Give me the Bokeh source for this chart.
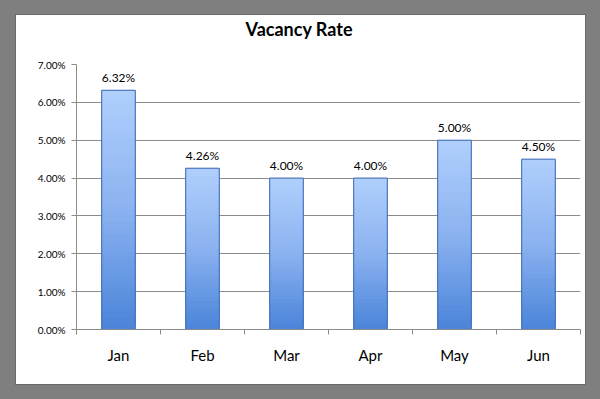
from bokeh.plotting import figure
from bokeh.models import Range1d, FixedTicker, PrintfTickFormatter, ColumnDataSource, Title
from bokeh.embed import file_html
from bokeh.resources import INLINE

months = ["Jan", "Feb", "Mar", "Apr", "May", "Jun"]
rates = [6.32, 4.26, 4.00, 4.00, 5.00, 4.50]
value_labels = ["6.32%", "4.26%", "4.00%", "4.00%", "5.00%", "4.50%"]
y_ticks = [0, 1, 2, 3, 4, 5, 6, 7]

FONT = "Lato"

def hex2rgb(h):
    h = h.lstrip("#")
    return tuple(int(h[i:i + 2], 16) for i in (0, 2, 4))

stops = [(0.0, hex2rgb("#4a84d9")), (0.5, hex2rgb("#8bb2f0")), (1.0, hex2rgb("#b0cffc"))]

def grad(t):
    for (t0, c0), (t1, c1) in zip(stops[:-1], stops[1:]):
        if t0 <= t <= t1:
            f = (t - t0) / (t1 - t0)
            c = [round(a + (b - a) * f) for a, b in zip(c0, c1)]
            return "#%02x%02x%02x" % tuple(c)
    return "#%02x%02x%02x" % stops[-1][1]

xs = [i + 0.5 for i in range(len(months))]

N = 40
gx, gb, gt, gc = [], [], [], []
for x, v in zip(xs, rates):
    for k in range(N):
        gx.append(x)
        gb.append(v * k / N)
        gt.append(v * min(k + 2, N) / N)
        gc.append(grad((k + 0.5) / N))

p = figure(width=569, height=369, output_backend="svg", toolbar_location=None, title=None,
           x_range=Range1d(0, 6), y_range=Range1d(0, 7),
           min_border_left=60, min_border_right=5, min_border_bottom=55, min_border_top=49,
           styles={"margin-left": "16px", "margin-top": "15px",
                   "box-shadow": "0 0 0 1px #6a6a6a, 0 0 0 17px #7f7f7f"})
p.background_fill_color = "white"
p.border_fill_color = "white"
p.outline_line_color = None

# spacer between the title and the plot area, then the title itself above it
p.add_layout(Title(text=" ", text_font_size="1px", standoff=22), "above")
p.add_layout(Title(text="Vacancy Rate", text_font=FONT, text_font_size="18px",
                   text_font_style="bold", text_color="black", align="left",
                   offset=169, standoff=0), "above")

p.vbar(x=gx, bottom=gb, top=gt, width=0.4, fill_color=gc, line_color=None)
p.vbar(x=xs, top=rates, width=0.4, fill_alpha=0, line_color="#3566b2", line_width=1)

src = ColumnDataSource(dict(x=xs, y=rates, t=value_labels))
p.text(x="x", y="y", text="t", source=src, text_align="center", text_baseline="bottom",
       y_offset=-5, text_font_size="12px", text_font={"value": FONT}, text_color="black")

p.xgrid.visible = False
p.ygrid.grid_line_color = "#8c8c8c"
p.ygrid.ticker = FixedTicker(ticks=y_ticks)

p.yaxis.ticker = FixedTicker(ticks=y_ticks)
p.yaxis.formatter = PrintfTickFormatter(format="%.2f%%")
p.yaxis.axis_line_color = "#8c8c8c"
p.yaxis.major_tick_line_color = "#8c8c8c"
p.yaxis.major_tick_out = 5
p.yaxis.major_tick_in = 0
p.yaxis.minor_tick_line_color = None
p.yaxis.major_label_text_font = FONT
p.yaxis.major_label_text_font_size = "10px"
p.yaxis.major_label_text_color = "black"
p.yaxis.major_label_standoff = 6

p.xaxis.ticker = FixedTicker(ticks=xs, minor_ticks=list(range(len(months) + 1)))
p.xaxis.major_label_overrides = {x: m for x, m in zip(xs, months)}
p.xaxis.axis_line_color = "#8c8c8c"
p.xaxis.major_tick_line_color = None
p.xaxis.minor_tick_line_color = "#8c8c8c"
p.xaxis.minor_tick_out = 5
p.xaxis.minor_tick_in = 0
p.xaxis.major_label_text_font = FONT
p.xaxis.major_label_text_font_size = "15px"
p.xaxis.major_label_text_color = "black"
p.xaxis.major_label_standoff = 10

open("out.html", "w").write(file_html(p, INLINE))
